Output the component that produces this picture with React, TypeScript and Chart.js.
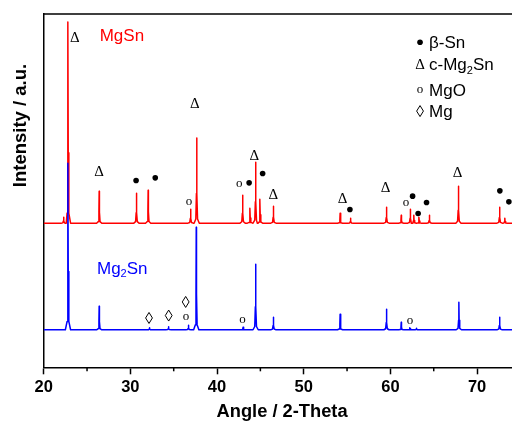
import React, { useEffect, useRef } from 'react';
import { Chart, registerables } from 'chart.js';

Chart.register(...registerables);

// ---- axis ----
const X_MIN = 20;
const X_MAX = 75;
const Y_MIN = 0;
const Y_MAX = 353;
const majorTicks = [20, 30, 40, 50, 60, 70];
const minorTicks = [25, 35, 45, 55, 65, 75];
const xTitle = 'Angle / 2-Theta';
const yTitle = 'Intensity / a.u.';

// ---- MgSn (red, offset trace) ----
const redBase = 144;
const redPeakX = [22.3, 22.8, 26.4, 30.7, 32.05, 36.95, 37.65, 42.95, 43.8, 44.45, 44.95, 46.5, 54.2, 55.4, 59.55, 61.25, 62.3, 62.7, 63.3, 64.5, 67.85, 72.6, 73.2];
const redPeakY = [150, 345, 176, 174, 177, 158, 229, 172, 159, 205, 168, 161, 154, 149, 160, 152, 158, 152, 150, 152, 181, 160, 149];

// ---- Mg2Sn (blue trace) ----
const blueBase = 37.5;
const bluePeakX = [22.8, 26.4, 32.2, 34.4, 36.7, 37.6, 43.0, 44.45, 46.5, 54.2, 59.55, 61.25, 62.25, 63.0, 67.9, 72.6];
const bluePeakY = [204, 61, 39.5, 40.5, 42, 140, 40, 103, 50, 53, 58, 45, 39.5, 39, 65, 50];

// peak line shape (offset in degrees, fraction of height)
const profileDx = [-0.3, -0.1, -0.03, 0, 0.03, 0.1, 0.3];
const profileFrac = [0, 0.05, 0.35, 1, 0.35, 0.05, 0];

// ---- phase markers [symbol, x, y] ----
const redMarks: [string, number, number][] = [
  ['D', 23.6, 330.3], ['D', 26.4, 196], ['b', 30.66, 186.7], ['b', 32.87, 189.3],
  ['D', 37.45, 263.7], ['o', 36.76, 165.3], ['o', 42.56, 183.5], ['b', 43.7, 184.3],
  ['D', 44.3, 212], ['b', 45.26, 193.7], ['D', 46.48, 172.7], ['D', 54.48, 169.3],
  ['b', 55.33, 157.7], ['D', 59.45, 180.3], ['o', 61.79, 163.7], ['b', 62.56, 171],
  ['b', 63.2, 153.7], ['b', 64.17, 164.7], ['D', 67.75, 194.7], ['b', 72.63, 176.3],
  ['b', 73.67, 165.3],
];
const blueMarks: [string, number, number][] = [
  ['d', 32.15, 49.3], ['d', 34.42, 51.7], ['d', 36.38, 65.3], ['o', 36.41, 50.3],
  ['o', 42.95, 47.7], ['o', 62.25, 46.3],
];

// ---- legend ----
const legendSymbols = ['b', 'D', 'o', 'd'];
const legendLabels: [string, string, string][] = [
  ['β-Sn', '', ''], ['c-Mg', '2', 'Sn'], ['MgO', '', ''], ['Mg', '', ''],
];
const legendX = 63.42;
const legendY = [324.7, 303, 277, 256];

// ---- trace labels ----
const redLabel: [string, string, string] = ['MgSn', '', ''];
const blueLabel: [string, string, string] = ['Mg', '2', 'Sn'];
const redLabelPos = [26.46, 332];
const blueLabelPos = [26.15, 99.7];

function buildTrace(base: number, px: number[], py: number[]) {
  const pts: { x: number; y: number }[] = [{ x: X_MIN, y: base }, { x: X_MAX, y: base }];
  px.forEach((x, i) => {
    const h = py[i] - base;
    profileDx.forEach((dx, k) => pts.push({ x: x + dx, y: base + h * profileFrac[k] }));
  });
  pts.sort((a, b) => a.x - b.x);
  return pts;
}

const SANS = '"Liberation Sans", Arial, sans-serif';
const SERIF = '"Liberation Serif", "Times New Roman", serif';

function drawSymbol(ctx: CanvasRenderingContext2D, sym: string, x: number, y: number) {
  ctx.save();
  ctx.fillStyle = '#000';
  ctx.strokeStyle = '#000';
  if (sym === 'b') {
    ctx.beginPath();
    ctx.arc(x, y, 2.8, 0, Math.PI * 2);
    ctx.fill();
  } else if (sym === 'd') {
    ctx.lineWidth = 1;
    ctx.beginPath();
    ctx.moveTo(x, y - 5.5);
    ctx.lineTo(x + 3.4, y);
    ctx.lineTo(x, y + 5.5);
    ctx.lineTo(x - 3.4, y);
    ctx.closePath();
    ctx.stroke();
  } else if (sym === 'D') {
    ctx.font = '15px ' + SERIF;
    ctx.textAlign = 'center';
    ctx.textBaseline = 'alphabetic';
    ctx.fillText('Δ', x, y + 5);
  } else if (sym === 'o') {
    ctx.font = '13px ' + SERIF;
    ctx.textAlign = 'center';
    ctx.textBaseline = 'alphabetic';
    ctx.fillText('o', x, y + 3);
  }
  ctx.restore();
}

function drawRich(ctx: CanvasRenderingContext2D, parts: [string, string, string], x: number, y: number, color: string, size: number) {
  ctx.save();
  ctx.fillStyle = color;
  ctx.textAlign = 'left';
  ctx.textBaseline = 'alphabetic';
  const base = y + size * 0.36;
  let cx = x;
  ctx.font = `${size}px ${SANS}`;
  ctx.fillText(parts[0], cx, base);
  cx += ctx.measureText(parts[0]).width;
  if (parts[1]) {
    ctx.font = `${size * 0.65}px ${SANS}`;
    ctx.fillText(parts[1], cx, base + size * 0.22);
    cx += ctx.measureText(parts[1]).width;
  }
  if (parts[2]) {
    ctx.font = `${size}px ${SANS}`;
    ctx.fillText(parts[2], cx, base);
  }
  ctx.restore();
}

const decorPlugin = {
  id: 'decor',
  afterDatasetsDraw(chart: any) {
    const { ctx, chartArea } = chart;
    const xs = chart.scales.x;
    const ys = chart.scales.y;
    ctx.save();
    ctx.strokeStyle = '#000';
    ctx.lineWidth = 1.5;
    ctx.beginPath();
    ctx.moveTo(chartArea.left, chartArea.top);
    ctx.lineTo(chartArea.right, chartArea.top);
    ctx.lineTo(chartArea.right, chartArea.bottom);
    ctx.stroke();
    ctx.restore();

    redMarks.forEach(([s, x, y]) => drawSymbol(ctx, s, xs.getPixelForValue(x), ys.getPixelForValue(y)));
    blueMarks.forEach(([s, x, y]) => drawSymbol(ctx, s, xs.getPixelForValue(x), ys.getPixelForValue(y)));

    legendSymbols.forEach((s, i) => {
      const px = xs.getPixelForValue(legendX);
      const py = ys.getPixelForValue(legendY[i]);
      drawSymbol(ctx, s, px, py);
      drawRich(ctx, legendLabels[i], px + 9, py, '#000', 17);
    });

    drawRich(ctx, redLabel, xs.getPixelForValue(redLabelPos[0]), ys.getPixelForValue(redLabelPos[1]), '#ff0000', 17);
    drawRich(ctx, blueLabel, xs.getPixelForValue(blueLabelPos[0]), ys.getPixelForValue(blueLabelPos[1]), '#0000ff', 17);
  },
  afterDraw(chart: any) {
    const { ctx, chartArea } = chart;
    const xs = chart.scales.x;
    ctx.save();
    ctx.strokeStyle = '#000';
    ctx.lineWidth = 1.5;
    minorTicks.forEach((v) => {
      const px = xs.getPixelForValue(v);
      ctx.beginPath();
      ctx.moveTo(px, chartArea.bottom);
      ctx.lineTo(px, chartArea.bottom + 4);
      ctx.stroke();
    });
    ctx.translate(20.5, 125.5);
    ctx.rotate(-Math.PI / 2);
    ctx.font = `bold 18.5px ${SANS}`;
    ctx.fillStyle = '#000';
    ctx.textAlign = 'center';
    ctx.textBaseline = 'middle';
    ctx.fillText(yTitle, 0, 0);
    ctx.restore();
  },
};

export default function App() {
  const ref = useRef<HTMLCanvasElement>(null);
  useEffect(() => {
    if (!ref.current) return;
    const chart = new Chart(ref.current, {
      type: 'line',
      data: {
        datasets: [
          {
            label: 'Mg2Sn',
            data: buildTrace(blueBase, bluePeakX, bluePeakY),
            borderColor: '#0000ff',
            borderWidth: 1.5,
            borderJoinStyle: 'round',
            pointRadius: 0,
            tension: 0,
          },
          {
            label: 'MgSn',
            data: buildTrace(redBase, redPeakX, redPeakY),
            borderColor: '#ff0000',
            borderWidth: 1.5,
            borderJoinStyle: 'round',
            pointRadius: 0,
            tension: 0,
          },
        ],
      },
      options: {
        animation: false,
        responsive: false,
        layout: { padding: { left: 43.7, right: 9.6, top: 14, bottom: 0 } },
        plugins: { legend: { display: false }, tooltip: { enabled: false }, title: { display: false } },
        scales: {
          x: {
            type: 'linear',
            min: X_MIN,
            max: X_MAX,
            afterFit: (s: any) => { s.height = 53.7; },
            afterBuildTicks: (s: any) => { s.ticks = majorTicks.map((v) => ({ value: v })); },
            ticks: {
              includeBounds: false,
              color: '#000',
              padding: 3,
              maxRotation: 0,
              autoSkip: false,
              font: { family: SANS, size: 16.5, weight: 'bold' },
            },
            grid: { display: true, drawOnChartArea: false, drawTicks: true, tickLength: 7, tickColor: '#000', tickWidth: 1.5 },
            border: { display: true, color: '#000', width: 1.5 },
            title: { display: true, text: xTitle, color: '#000', padding: { top: 0, bottom: 0 }, font: { family: SANS, size: 18.3, weight: 'bold', lineHeight: 1 } },
          },
          y: {
            type: 'linear',
            min: Y_MIN,
            max: Y_MAX,
            afterFit: (s: any) => { s.width = 0; },
            ticks: { display: false },
            grid: { display: false },
            border: { display: true, color: '#000', width: 1.5 },
          },
        },
      },
      plugins: [decorPlugin],
    });
    return () => chart.destroy();
  }, []);
  return (
    <div style={{ position: 'absolute', left: 0, top: 0, width: 512, height: 421, overflow: 'hidden', background: '#fff' }}>
      <canvas ref={ref} width={530} height={421} style={{ display: 'block' }} />
    </div>
  );
}
